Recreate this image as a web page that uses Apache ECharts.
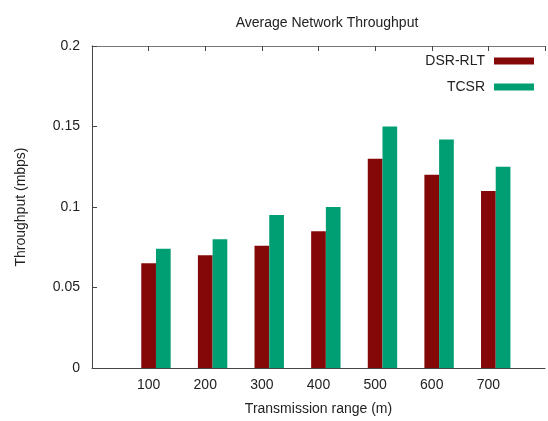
<!DOCTYPE html>
<html>
<head>
<meta charset="utf-8">
<script src="https://cdn.jsdelivr.net/npm/echarts@6/dist/echarts.min.js"></script>
<style>
  html, body { margin: 0; padding: 0; background: #fff; }
  #main { width: 548px; height: 421px; }
</style>
</head>
<body>
<div id="main"></div>
<script>
let categories = ['100', '200', '300', '400', '500', '600', '700'];
let dsrRlt = [0.065, 0.070, 0.076, 0.085, 0.130, 0.120, 0.110];
let tcsr = [0.074, 0.080, 0.095, 0.100, 0.150, 0.142, 0.125];
let yTicks = [0, 0.05, 0.1, 0.15, 0.2];

// empty slot on each side, like the gnuplot x range
let axisData = [''].concat(categories, ['']);
let pad = (arr) => [null].concat(arr, [null]);

let myChart = echarts.init(document.getElementById('main'));
let textFont = 'Liberation Sans, Arial, sans-serif';

let option = {
    animation: false,
    title: {
        text: 'Average Network Throughput',
        left: 322,
        top: 11,
        textAlign: 'center',
        textStyle: { fontSize: 14, fontWeight: 'normal', color: '#222', fontFamily: textFont }
    },
    legend: {
        orient: 'vertical',
        right: 9,
        top: 49,
        align: 'right',
        itemWidth: 40,
        itemHeight: 7,
        itemGap: 12,
        icon: 'rect',
        data: ['DSR-RLT', 'TCSR'],
        textStyle: { fontSize: 14, color: '#222', fontFamily: textFont, padding: [0, 4, 0, 0] }
    },
    grid: {
        left: 92,
        top: 46,
        width: 464,
        height: 326
    },
    xAxis: [
        {
            type: 'category',
            data: axisData,
            boundaryGap: false,
            name: 'Transmission range (m)',
            nameLocation: 'middle',
            nameGap: 34,
            nameTextStyle: { fontSize: 14, color: '#222', fontFamily: textFont },
            axisLine: { lineStyle: { color: '#444', width: 1 } },
            axisTick: { show: false },
            axisLabel: { fontSize: 14, color: '#222', fontFamily: textFont, margin: 10, interval: 0 },
            splitLine: { show: false }
        },
        {
            type: 'category',
            data: axisData,
            boundaryGap: false,
            position: 'top',
            axisLine: { lineStyle: { color: '#777', width: 1 } },
            axisTick: { show: true, inside: true, length: 5, interval: 0, lineStyle: { color: '#444' } },
            axisLabel: { show: false },
            splitLine: { show: false }
        }
    ],
    yAxis: [
        {
            type: 'value',
            min: 0,
            max: 0.2,
            interval: 0.05,
            name: 'Throughput (mbps)',
            nameLocation: 'middle',
            nameGap: 64,
            nameTextStyle: { fontSize: 14, color: '#222', fontFamily: textFont },
            axisLine: { show: true, lineStyle: { color: '#444', width: 1 } },
            axisTick: { show: true, inside: true, length: 5, lineStyle: { color: '#444' } },
            axisLabel: {
                fontSize: 14, color: '#222', fontFamily: textFont, margin: 12,
                formatter: (v) => yTicks.indexOf(v) >= 0 ? String(v) : ''
            },
            splitLine: { show: false }
        }
    ],
    series: [
        {
            // empty spacer so the pair sits right of the label, as in gnuplot
            name: 'spacer',
            type: 'bar',
            data: pad(categories.map(() => null)),
            barWidth: 14.7,
            barGap: '0%',
            silent: true
        },
        {
            name: 'DSR-RLT',
            type: 'bar',
            data: pad(dsrRlt),
            barWidth: 14.7,
            barGap: '0%',
            itemStyle: { color: '#850808' }
        },
        {
            name: 'TCSR',
            type: 'bar',
            data: pad(tcsr),
            barWidth: 14.7,
            barGap: '0%',
            itemStyle: { color: '#009E73' }
        }
    ]
};
myChart.setOption(option);
</script>
</body>
</html>
